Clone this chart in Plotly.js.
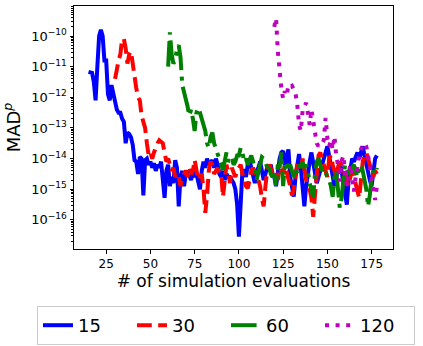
<!DOCTYPE html>
<html>
<head>
<meta charset="utf-8">
<script src="https://cdn.plot.ly/plotly-3.0.1.min.js"></script>
<style>
  html, body { margin: 0; padding: 0; background: #fff; }
  #chart { width: 423px; height: 346px; }
</style>
</head>
<body>
<div id="chart"></div>
<script>
// log10 of MAD^p for every simulation evaluation, one array per sample size
let logMad15 = [
	-11.17,-11.17,-11.2,-11.5,-12.1,-11.0,-10.0,-9.8,-10.0,-10.8,
	-10.8,-11.9,-12.1,-11.6,-11.9,-12.15,-12.4,-12.5,-12.5,-12.7,
	-12.8,-13.5,-13.15,-13.2,-13.3,-13.55,-14.05,-14.1,-14.5,-13.95,
	-14.0,-15.2,-14.05,-14.0,-14.2,-14.1,-14.3,-14.15,-14.4,-14.2,
	-14.3,-14.1,-14.6,-15.28,-14.4,-14.2,-14.9,-14.6,-14.8,-14.05,
	-14.3,-15.56,-14.6,-14.4,-14.9,-14.5,-14.4,-14.6,-14.7,-14.4,
	-14.6,-14.5,-14.7,-15.0,-14.4,-14.1,-14.3,-14.0,-14.2,-14.1,
	-14.05,-14.3,-14.0,-14.2,-14.5,-14.6,-14.4,-14.7,-14.5,-14.6,
	-14.6,-14.7,-14.8,-15.0,-15.5,-16.55,-15.1,-14.4,-14.4,-14.6,
	-14.2,-14.05,-14.3,-14.6,-14.8,-14.4,-14.3,-14.1,-14.4,-14.7,
	-14.5,-14.3,-14.4,-14.2,-14.5,-14.6,-14.9,-14.3,-14.0,-13.8,
	-13.75,-14.2,-14.0,-13.7,-14.6,-15.0,-15.24,-14.6,-14.1,-13.85,
	-14.3,-14.9,-15.56,-14.9,-14.4,-14.1,-13.8,-14.2,-14.6,-14.8,
	-14.6,-14.4,-14.2,-14.0,-13.85,-13.6,-13.9,-14.3,-14.7,-14.9,
	-14.6,-14.3,-14.1,-14.4,-14.8,-15.1,-15.5,-14.7,-14.3,-14.0,
	-14.1,-13.9,-13.8,-14.0,-13.75,-13.6,-13.9,-14.2,-14.5,-14.7,
	-14.9,-14.4,-14.0,-13.9
];
let logMad30 = [
	-11.4,-11.0,-10.8,-10.6,-10.1,-10.1,-10.4,-10.9,-10.6,-10.5,
	-11.0,-11.3,-11.7,-12.0,-12.1,-12.6,-12.8,-13.0,-13.5,-13.9,
	-13.8,-14.0,-13.8,-13.6,-13.5,-13.4,-13.45,-13.5,-13.8,-14.1,
	-14.0,-14.2,-14.4,-14.3,-14.6,-14.5,-14.58,-14.9,-14.6,-14.5,
	-14.4,-14.6,-14.3,-14.5,-14.4,-14.04,-14.4,-14.7,-14.6,-14.5,
	-15.0,-15.77,-15.2,-14.4,-14.1,-14.2,-14.5,-14.4,-14.3,-14.5,
	-14.5,-15.25,-14.6,-14.2,-14.5,-14.8,-14.3,-14.5,-14.6,-14.4,
	-14.3,-14.2,-14.5,-14.6,-14.9,-14.97,-14.7,-14.4,-14.3,-14.5,
	-14.6,-14.7,-14.9,-15.3,-15.56,-14.9,-14.4,-14.2,-14.3,-14.5,
	-14.4,-14.5,-14.7,-14.3,-14.4,-14.5,-14.2,-14.4,-14.6,-14.9,
	-15.2,-15.0,-14.5,-14.2,-14.1,-14.3,-14.0,-14.4,-14.7,-14.9,
	-15.0,-15.3,-15.9,-15.2,-14.6,-13.9,-13.8,-14.0,-14.2,-14.4,
	-14.6,-14.0,-13.9,-14.2,-14.4,-14.6,-14.3,-14.1,-14.2,-14.4,
	-14.6,-14.8,-14.9,-14.6,-14.4,-14.6,-14.8,-15.0,-15.28,-14.7,
	-14.1,-13.9,-13.8,-14.0,-14.2,-14.3,-14.6,-14.4,-14.5
];
let logMad60 = [
	-11.0,-9.88,-10.6,-10.9,-10.8,-10.4,-10.3,-10.7,-11.6,-11.8,
	-12.1,-12.3,-12.6,-12.4,-12.7,-13.1,-12.5,-12.35,-12.5,-12.7,
	-12.9,-13.1,-13.5,-13.65,-13.3,-13.15,-13.5,-13.7,-13.9,-14.0,
	-14.2,-14.37,-14.0,-13.8,-14.1,-14.0,-13.95,-14.2,-14.1,-13.9,
	-13.9,-13.65,-13.8,-14.1,-14.0,-14.2,-14.0,-13.9,-14.1,-14.3,
	-14.7,-14.5,-14.2,-13.95,-14.0,-14.1,-14.3,-14.2,-14.5,-14.6,
	-14.5,-14.9,-14.2,-14.3,-13.8,-14.9,-14.2,-14.1,-14.3,-14.2,
	-14.4,-14.6,-14.3,-14.5,-14.2,-14.3,-14.1,-14.3,-14.2,-14.4,
	-14.8,-15.0,-15.25,-14.5,-14.1,-14.0,-14.2,-14.4,-14.3,-14.5,
	-14.6,-14.7,-14.9,-15.25,-14.6,-14.4,-14.9,-15.6,-15.3,-14.6,
	-14.2,-14.3,-14.5,-14.4,-14.3,-14.2,-14.4,-14.6,-14.3,-14.2,
	-14.4,-14.7,-15.0,-15.56,-15.2,-14.6,-14.4,-14.5,-14.3
];
let logMad120 = [
	-9.7,-9.42,-10.5,-11.3,-11.72,-12.05,-11.8,-11.95,-11.6,-11.65,
	-11.62,-11.75,-11.88,-12.24,-12.9,-13.1,-12.45,-12.3,-12.18,-12.5,
	-12.9,-12.4,-12.8,-13.2,-13.5,-13.6,-13.5,-13.5,-13.4,-12.67,
	-13.33,-13.6,-13.4,-13.7,-13.27,-13.9,-14.2,-14.75,-14.1,-13.9,
	-14.3,-14.9,-14.5,-14.2,-14.6,-15.07,-14.6,-14.2,-13.9,-13.7,
	-13.55,-13.5,-13.6,-13.9,-14.3,-14.6,-15.0,-15.35,-14.9
];
// first evaluation of each run
let firstEval = {15: 15, 30: 30, 60: 60, 120: 120};
let seriesNames = ['15', '30', '60', '120'];
let seriesColors = ['#0000ff', '#ff0000', '#008000', '#bf00bf'];
let seriesDash = ['solid', '14.8px,6.4px', '25.6px,6.4px,4px,6.4px', '4px,6.6px'];
let xTicks = [25, 50, 75, 100, 125, 150, 175];
let yTickExp = [-16, -15, -14, -13, -12, -11, -10];

function evals(first, n) {
	let out = [];
	for (let i=0; i<n; i++) {
		out.push(first + i);
	}
	return out;
}

function toMad(logs) {
	return logs.map(function(v) { return Math.pow(10, v); });
}

let allLogs = [logMad15, logMad30, logMad60, logMad120];
let data = [];
for (let i=0; i<allLogs.length; i++) {
	let name = seriesNames[i];
	data.push({
		x: evals(firstEval[name], allLogs[i].length),
		y: toMad(allLogs[i]),
		type: 'scatter',
		mode: 'lines',
		name: name,
		line: {color: seriesColors[i], width: 4, dash: seriesDash[i]}
	});
}

// minor ticks of the log axis, 2..9 in every decade
let minorVals = [];
for (let e=-17; e<=-9; e++) {
	for (let m=2; m<=9; m++) {
		minorVals.push(m * Math.pow(10, e));
	}
}

let layout = {
	width: 423,
	height: 346,
	margin: {l: 74, r: 30, t: 6, b: 97, autoexpand: false},
	paper_bgcolor: '#ffffff',
	plot_bgcolor: '#ffffff',
	font: {family: 'DejaVu Sans, sans-serif', size: 12, color: '#000'},
	showlegend: true,
	xaxis: {
		range: [6.8, 187.1],
		tickmode: 'array',
		tickvals: xTicks,
		ticks: 'outside',
		ticklen: 3.5,
		tickcolor: '#000',
		showline: true,
		mirror: true,
		linecolor: '#000',
		linewidth: 1,
		showgrid: false,
		zeroline: false,
		tickfont: {size: 12},
		title: {text: '# of simulation evaluations', font: {size: 17}, standoff: 2}
	},
	yaxis: {
		type: 'log',
		range: [-16.95, -9.02],
		tickmode: 'array',
		tickvals: yTickExp.map(function(e) { return Math.pow(10, e); }),
		ticktext: yTickExp.map(function(e) { return '10<sup>\u2212' + (-e) + '</sup>'; }),
		ticks: 'outside',
		ticklen: 3.5,
		tickcolor: '#000',
		minor: {tickmode: 'array', tickvals: minorVals, ticks: 'outside', ticklen: 2, tickcolor: '#000', showgrid: false},
		showline: true,
		mirror: true,
		linecolor: '#000',
		linewidth: 1,
		showgrid: false,
		zeroline: false,
		tickfont: {size: 13},
		title: {text: 'MAD<sup><i>p</i></sup>', font: {size: 18}, standoff: 6}
	},
	legend: {
		orientation: 'h',
		x: -0.116,
		xanchor: 'left',
		y: -0.2346,
		yanchor: 'top',
		bgcolor: '#ffffff',
		bordercolor: '#cccccc',
		borderwidth: 1,
		font: {size: 18},
		entrywidth: 49,
		entrywidthmode: 'pixels'
	}
};

Plotly.newPlot('chart', data, layout, {staticPlot: true});
</script>
</body>
</html>
